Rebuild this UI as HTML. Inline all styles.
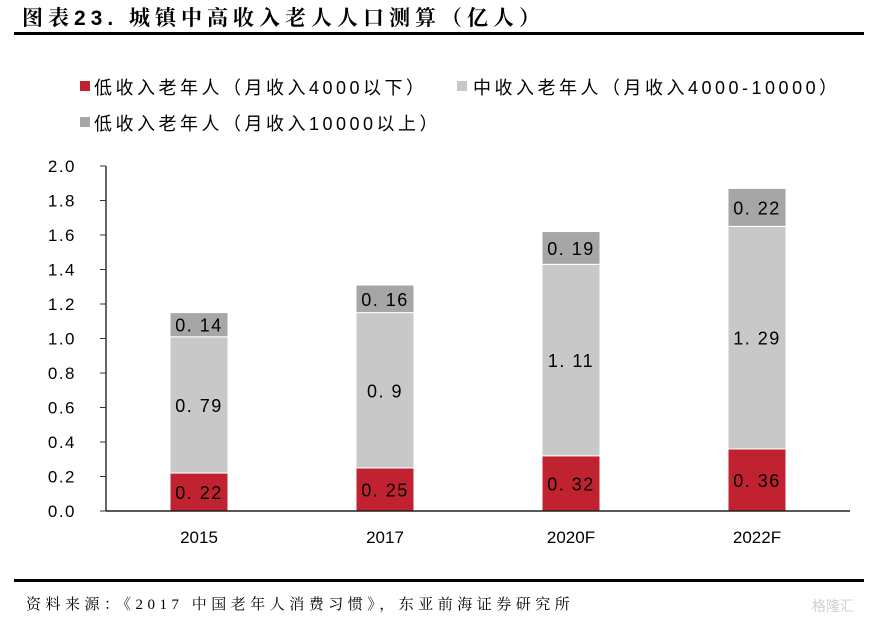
<!DOCTYPE html>
<html><head><meta charset="utf-8"><style>
body{margin:0;background:#fff;width:879px;height:623px;overflow:hidden;font-family:"Liberation Sans","Noto Sans CJK SC",sans-serif}
</style></head><body>
<svg width="879" height="623" xmlns="http://www.w3.org/2000/svg">
<text x="22" y="25" font-size="21" font-weight="bold" letter-spacing="5" font-family="'Liberation Sans','Noto Serif CJK SC',serif" fill="#000">图表23. 城镇中高收入老人人口测算（亿人）</text>
<rect x="14" y="32" width="850" height="3" fill="#000"/>
<g font-size="18" fill="#000" letter-spacing="3.5" font-family="'Liberation Sans','Noto Sans CJK SC',sans-serif">
<rect x="80" y="81" width="10" height="10" fill="#c0232f"/>
<text x="94" y="94">低收入老年人（月收入4000以下）</text>
<rect x="457" y="81" width="10" height="10" fill="#c8c8c8"/>
<text x="473" y="94">中收入老年人（月收入4000-10000）</text>
<rect x="80" y="117" width="10" height="10" fill="#a6a6a6"/>
<text x="94" y="130">低收入老年人（月收入10000以上）</text>
</g>
<g id="plot"></g>
<rect x="14" y="579" width="850" height="3" fill="#000"/>
<text x="26" y="609" font-size="15" letter-spacing="4.5" font-family="'Liberation Serif','Noto Serif CJK SC',serif" fill="#000">资料来源：《2017 中国老年人消费习惯》，东亚前海证券研究所</text>
<text x="812" y="611" font-size="14" fill="#d0d0d0">格隆汇</text>
</svg>
<script>
const categories=["2015","2017","2020F","2022F"];
const lowValues=[0.22,0.25,0.32,0.36];
const midValues=[0.79,0.9,1.11,1.29];
const highValues=[0.14,0.16,0.19,0.22];
const yTicks=["0.0","0.2","0.4","0.6","0.8","1.0","1.2","1.4","1.6","1.8","2.0"];
const NS="http://www.w3.org/2000/svg";
const g=document.getElementById('plot');
const y0=511,pxPer=172.5,x0=106,xEnd=850,step=186,barW=58,firstC=199;
const y=v=>y0-v*pxPer;
const xc=i=>firstC+i*step;
function mk(t,a){const e=document.createElementNS(NS,t);for(const k in a)e.setAttribute(k,a[k]);g.appendChild(e);return e;}
yTicks.forEach(t=>{const v=parseFloat(t);
const l=mk('line',{x1:x0-6,x2:x0,y1:y(v),y2:y(v),stroke:'#333','stroke-width':1});


const tx=mk('text',{x:76,y:y(v)+6,'font-size':17,'text-anchor':'end',fill:'#000','letter-spacing':'1.5'});tx.textContent=t;


});
const series=[[lowValues,'#c0232f','low'],[midValues,'#c8c8c8','mid'],[highValues,'#a6a6a6','high']];
categories.forEach((c,i)=>{let base=0;
series.forEach(([arr,col,nm])=>{const v=arr[i];const top=base+v;
const r=mk('rect',{x:xc(i)-barW/2,y:y(top),width:barW,height:y(base)-y(top),fill:col,stroke:'#fff','stroke-width':1});


const t=mk('text',{x:xc(i),y:(y(base)+y(top))/2+7,'font-size':18,'text-anchor':'middle',fill:'#000','letter-spacing':'1.5'});t.textContent=String(v).replace('.','. ');


base=top;});
const xl=mk('text',{x:xc(i),y:543,'font-size':17,'text-anchor':'middle',fill:'#000'});xl.textContent=c;


});
const ya=mk('line',{x1:x0,x2:x0,y1:y(2),y2:y0,stroke:'#333','stroke-width':1.5});


const xa=mk('line',{x1:x0,x2:xEnd,y1:y0,y2:y0,stroke:'#222','stroke-width':1.5});


</script>
</body></html>
